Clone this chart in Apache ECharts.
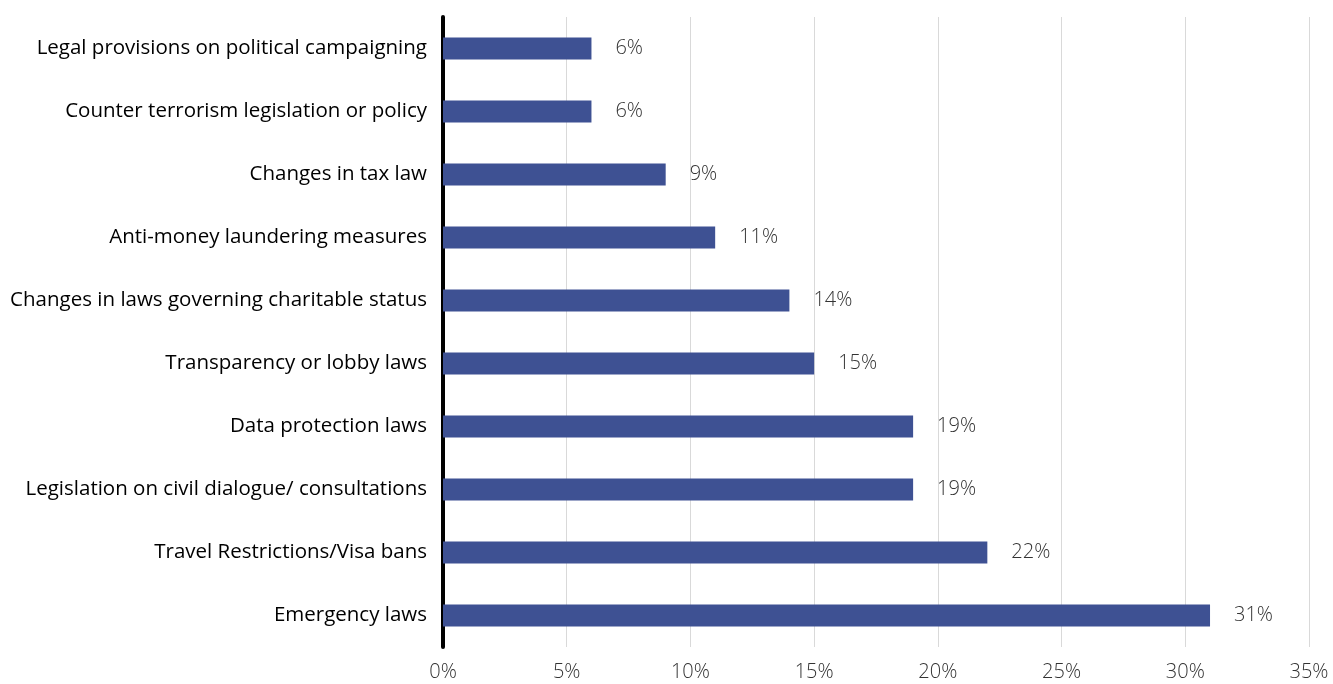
<!DOCTYPE html>
<html>
<head>
<meta charset="utf-8">
<script src="https://cdn.jsdelivr.net/npm/echarts@6/dist/echarts.min.js"></script>
<style>
  html, body { margin: 0; padding: 0; background: #fff; }
  #chart { width: 1333px; height: 684px; }
</style>
</head>
<body>
<div id="chart"></div>
<script>
// categories listed bottom to top, as the category axis draws them
var categories = [
  'Emergency laws',
  'Travel Restrictions/Visa bans',
  'Legislation on civil dialogue/ consultations',
  'Data protection laws',
  'Transparency or lobby laws',
  'Changes in laws governing charitable status',
  'Anti-money laundering measures',
  'Changes in tax law',
  'Counter terrorism legislation or policy',
  'Legal provisions on political campaigning'
];
var values = [31, 22, 19, 19, 15, 14, 11, 9, 6, 6];
var xTicks = [0, 5, 10, 15, 20, 25, 30, 35];

var chart = echarts.init(document.getElementById('chart'));
var option = {
  animation: false,
  grid: { left: 443, right: 24, top: 17, bottom: 37 },
  xAxis: {
    type: 'value',
    min: xTicks[0],
    max: xTicks[xTicks.length - 1],
    interval: 5,
    axisLine: { show: false },
    axisTick: { show: false },
    splitLine: { lineStyle: { color: '#d9d9d9', width: 1 } },
    axisLabel: {
      formatter: '{value}%',
      color: '#333',
      fontFamily: 'Open Sans',
      fontWeight: 300,
      fontSize: 20,
      margin: 15
    }
  },
  yAxis: {
    type: 'category',
    data: categories,
    axisLine: { lineStyle: { color: '#000', width: 4 } },
    axisTick: { show: false },
    axisLabel: {
      color: '#000',
      fontFamily: 'Open Sans',
      fontSize: 20.5,
      margin: 16
    }
  },
  series: [{
    type: 'bar',
    data: values,
    barWidth: 22,
    itemStyle: { color: '#3e5193' },
    label: {
      show: true,
      position: 'right',
      distance: 24,
      formatter: '{c}%',
      color: '#333',
      fontFamily: 'Open Sans',
      fontWeight: 300,
      fontSize: 20
    }
  }]
};
chart.setOption(option);
</script>
</body>
</html>
